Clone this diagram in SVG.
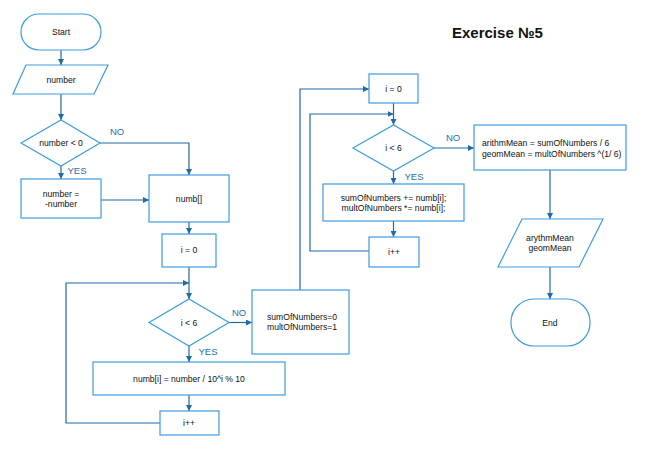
<svg xmlns="http://www.w3.org/2000/svg" width="667" height="461" viewBox="0 0 667 461">
<defs>
<marker id="arr" viewBox="0 0 10 10" refX="10" refY="5" markerWidth="6" markerHeight="6" markerUnits="userSpaceOnUse" orient="auto">
<path d="M0,0 L10,5 L0,10 z" fill="#1f6ba6"/>
</marker>
<style>
.s{fill:#fff;stroke:#3d9ce0;stroke-width:1.2}
.t{font-family:"Liberation Sans",Arial,sans-serif;font-size:8.6px;fill:#111;text-anchor:middle}
.l{font-family:"Liberation Sans",Arial,sans-serif;font-size:9.5px;fill:#2a6ea6;text-anchor:middle}
.c{fill:none;stroke:#1f6ba6;stroke-width:1.2}
.a{marker-end:url(#arr)}
</style>
</defs>
<rect width="667" height="461" fill="#fff"/>
<text x="452" y="38" font-family="'Liberation Sans',Arial,sans-serif" font-size="15" font-weight="bold" fill="#111">Exercise №5</text>
<g id="connectors">
<path class="c a" d="M61,50 V65"/>
<path class="c a" d="M61,94 V120"/>
<path class="c a" d="M100,143 H189 V175"/>
<path class="c a" d="M61,166 V179"/>
<path class="c a" d="M101,200 H149"/>
<path class="c a" d="M189,222 V234"/>
<path class="c a" d="M189,267 V299"/>
<path class="c a" d="M160,423 H66 V283 H189"/>
<path class="c a" d="M229,322.5 H252"/>
<path class="c a" d="M189,346 V362"/>
<path class="c a" d="M189,395 V411"/>
<path class="c a" d="M300,290 V89 H369"/>
<path class="c a" d="M393.5,103 V125"/>
<path class="c a" d="M369,251 H310 V114 H393.5"/>
<path class="c a" d="M434,148 H474"/>
<path class="c a" d="M393.5,171 V184"/>
<path class="c a" d="M393.5,221 V237"/>
<path class="c a" d="M550,170 V219"/>
<path class="c a" d="M550,267 V299"/>
<text class="l" x="117" y="135">NO</text>
<text class="l" x="77" y="174">YES</text>
<text class="l" x="239" y="316">NO</text>
<text class="l" x="208" y="355">YES</text>
<text class="l" x="453" y="141">NO</text>
<text class="l" x="414" y="180">YES</text>
</g>
<g id="start"><rect class="s" x="21" y="14" width="80" height="36" rx="18"/><text class="t" x="61" y="35">Start</text></g>
<g id="input-number"><polygon class="s" points="26,65 108,65 94,94 13,94"/><text class="t" x="61" y="83">number</text></g>
<g id="cond-neg"><polygon class="s" points="21,143 61,120 100,143 61,166"/><text class="t" x="61" y="146">number &lt; 0</text></g>
<g id="negate"><rect class="s" x="21" y="179" width="80" height="39"/><text class="t" x="61" y="197">number =</text><text class="t" x="61" y="207">-number</text></g>
<g id="numb-array"><rect class="s" x="149" y="175" width="80" height="47"/><text class="t" x="189" y="202">numb[]</text></g>
<g id="i0-a"><rect class="s" x="162" y="234" width="54" height="33"/><text class="t" x="189" y="253">i = 0</text></g>
<g id="cond-i-a"><polygon class="s" points="149,322.5 189,299 229,322.5 189,346"/><text class="t" x="189" y="325.5">i &lt; 6</text></g>
<g id="init-sums"><rect class="s" x="252" y="290" width="97" height="64"/><text class="t" x="302" y="320">sumOfNumbers=0</text><text class="t" x="302" y="330">multOfNumbers=1</text></g>
<g id="digit"><rect class="s" x="93" y="362" width="192" height="33"/><text class="t" x="189" y="382">numb[i] = number / 10^i % 10</text></g>
<g id="inc-a"><rect class="s" x="160" y="411" width="59" height="24"/><text class="t" x="189" y="426">i++</text></g>
<g id="i0-b"><rect class="s" x="369" y="74" width="49" height="29"/><text class="t" x="393.5" y="92">i = 0</text></g>
<g id="cond-i-b"><polygon class="s" points="353,148 393.5,125 434,148 393.5,171"/><text class="t" x="393.5" y="151">i &lt; 6</text></g>
<g id="accumulate"><rect class="s" x="323" y="184" width="141" height="37"/><text class="t" x="393.5" y="201">sumOfNumbers += numb[i];</text><text class="t" x="393.5" y="211">multOfNumbers *= numb[i];</text></g>
<g id="inc-b"><rect class="s" x="369" y="237" width="50" height="30"/><text class="t" x="394" y="255">i++</text></g>
<g id="means"><rect class="s" x="474" y="125" width="152" height="45"/><text class="t" x="482" y="146" style="text-anchor:start">arithmMean = sumOfNumbers / 6</text><text class="t" x="482" y="156.5" style="text-anchor:start">geomMean = multOfNumbers ^(1/ 6)</text></g>
<g id="output"><polygon class="s" points="522,219 603,219 579,267 498,267"/><text class="t" x="550" y="241">arythmMean</text><text class="t" x="550" y="251">geomMean</text></g>
<g id="end"><rect class="s" x="511" y="299" width="79" height="47" rx="23"/><text class="t" x="550" y="325.5">End</text></g>
</svg>
